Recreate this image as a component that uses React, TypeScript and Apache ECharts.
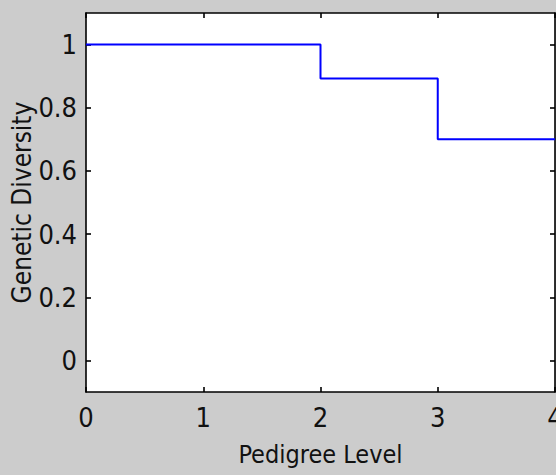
import React, { useEffect, useRef } from "react";
import * as echarts from "echarts";

const levels = [0, 1, 2, 3, 4];
const diversity = [1, 1, 0.893, 0.7, 0.7];
const yTicks = [0, 0.2, 0.4, 0.6, 0.8, 1];
const xTicks = [0, 1, 2, 3, 4];
const xTitle = "Pedigree Level";
const yTitle = "Genetic Diversity";

const FONT = "'Liberation Sans Narrow', 'DejaVu Sans Condensed', 'Liberation Sans', sans-serif";

export default function App() {
  const ref = useRef<HTMLDivElement>(null);
  useEffect(() => {
    if (!ref.current) return;
    const chart = echarts.init(ref.current, undefined, { renderer: "svg" });
    const axisLine = { show: true, onZero: false, lineStyle: { color: "#000", width: 1.6 } };
    const tick = { show: true, inside: true, length: 5, lineStyle: { color: "#000", width: 1.6 } };
    const labelStyle = { color: "#111", fontFamily: FONT, fontSize: 27 };
    chart.setOption({
      animation: false,
      backgroundColor: "#cccccc",
      grid: {
        left: 86,
        right: 1,
        top: 13,
        bottom: 83,
        containLabel: false,
        outerBoundsMode: "none",
        show: true,
        backgroundColor: "#ffffff",
        borderWidth: 0,
      },
      xAxis: [
        {
          type: "value",
          min: 0,
          max: 4,
          interval: 1,
          position: "bottom",
          axisLine,
          axisTick: { ...tick, customValues: xTicks },
          splitLine: { show: false },
          axisLabel: { ...labelStyle, margin: 12, customValues: xTicks },
          name: xTitle,
          nameLocation: "middle",
          nameGap: 50,
          nameMoveOverlap: false,
          nameTextStyle: { ...labelStyle, fontSize: 25 },
        },
        {
          type: "value",
          min: 0,
          max: 4,
          interval: 1,
          position: "top",
          axisLine,
          axisTick: { ...tick, customValues: xTicks },
          splitLine: { show: false },
          axisLabel: { show: false },
        },
      ],
      yAxis: [
        {
          type: "value",
          min: -0.1,
          max: 1.1,
          position: "left",
          axisLine,
          axisTick: { ...tick, customValues: yTicks },
          splitLine: { show: false },
          axisLabel: {
            ...labelStyle,
            margin: 9,
            customValues: yTicks,
            formatter: (v: number) => String(v),
          },
          name: yTitle,
          nameLocation: "middle",
          nameGap: 51,
          nameMoveOverlap: false,
          nameRotate: 90,
          nameTextStyle: { ...labelStyle, fontSize: 26 },
        },
        {
          type: "value",
          min: -0.1,
          max: 1.1,
          position: "right",
          axisLine,
          axisTick: { ...tick, customValues: yTicks },
          splitLine: { show: false },
          axisLabel: { show: false },
        },
      ],
      series: [
        {
          type: "line",
          step: "end",
          data: levels.map((x, i) => [x, diversity[i]]),
          symbol: "none",
          lineStyle: { color: "#0000ff", width: 2 },
          xAxisIndex: 0,
          yAxisIndex: 0,
        },
      ],
    });
    return () => chart.dispose();
  }, []);
  return (
    <div
      ref={ref}
      style={{ position: "fixed", left: 0, top: 0, width: 556, height: 475 }}
    />
  );
}
